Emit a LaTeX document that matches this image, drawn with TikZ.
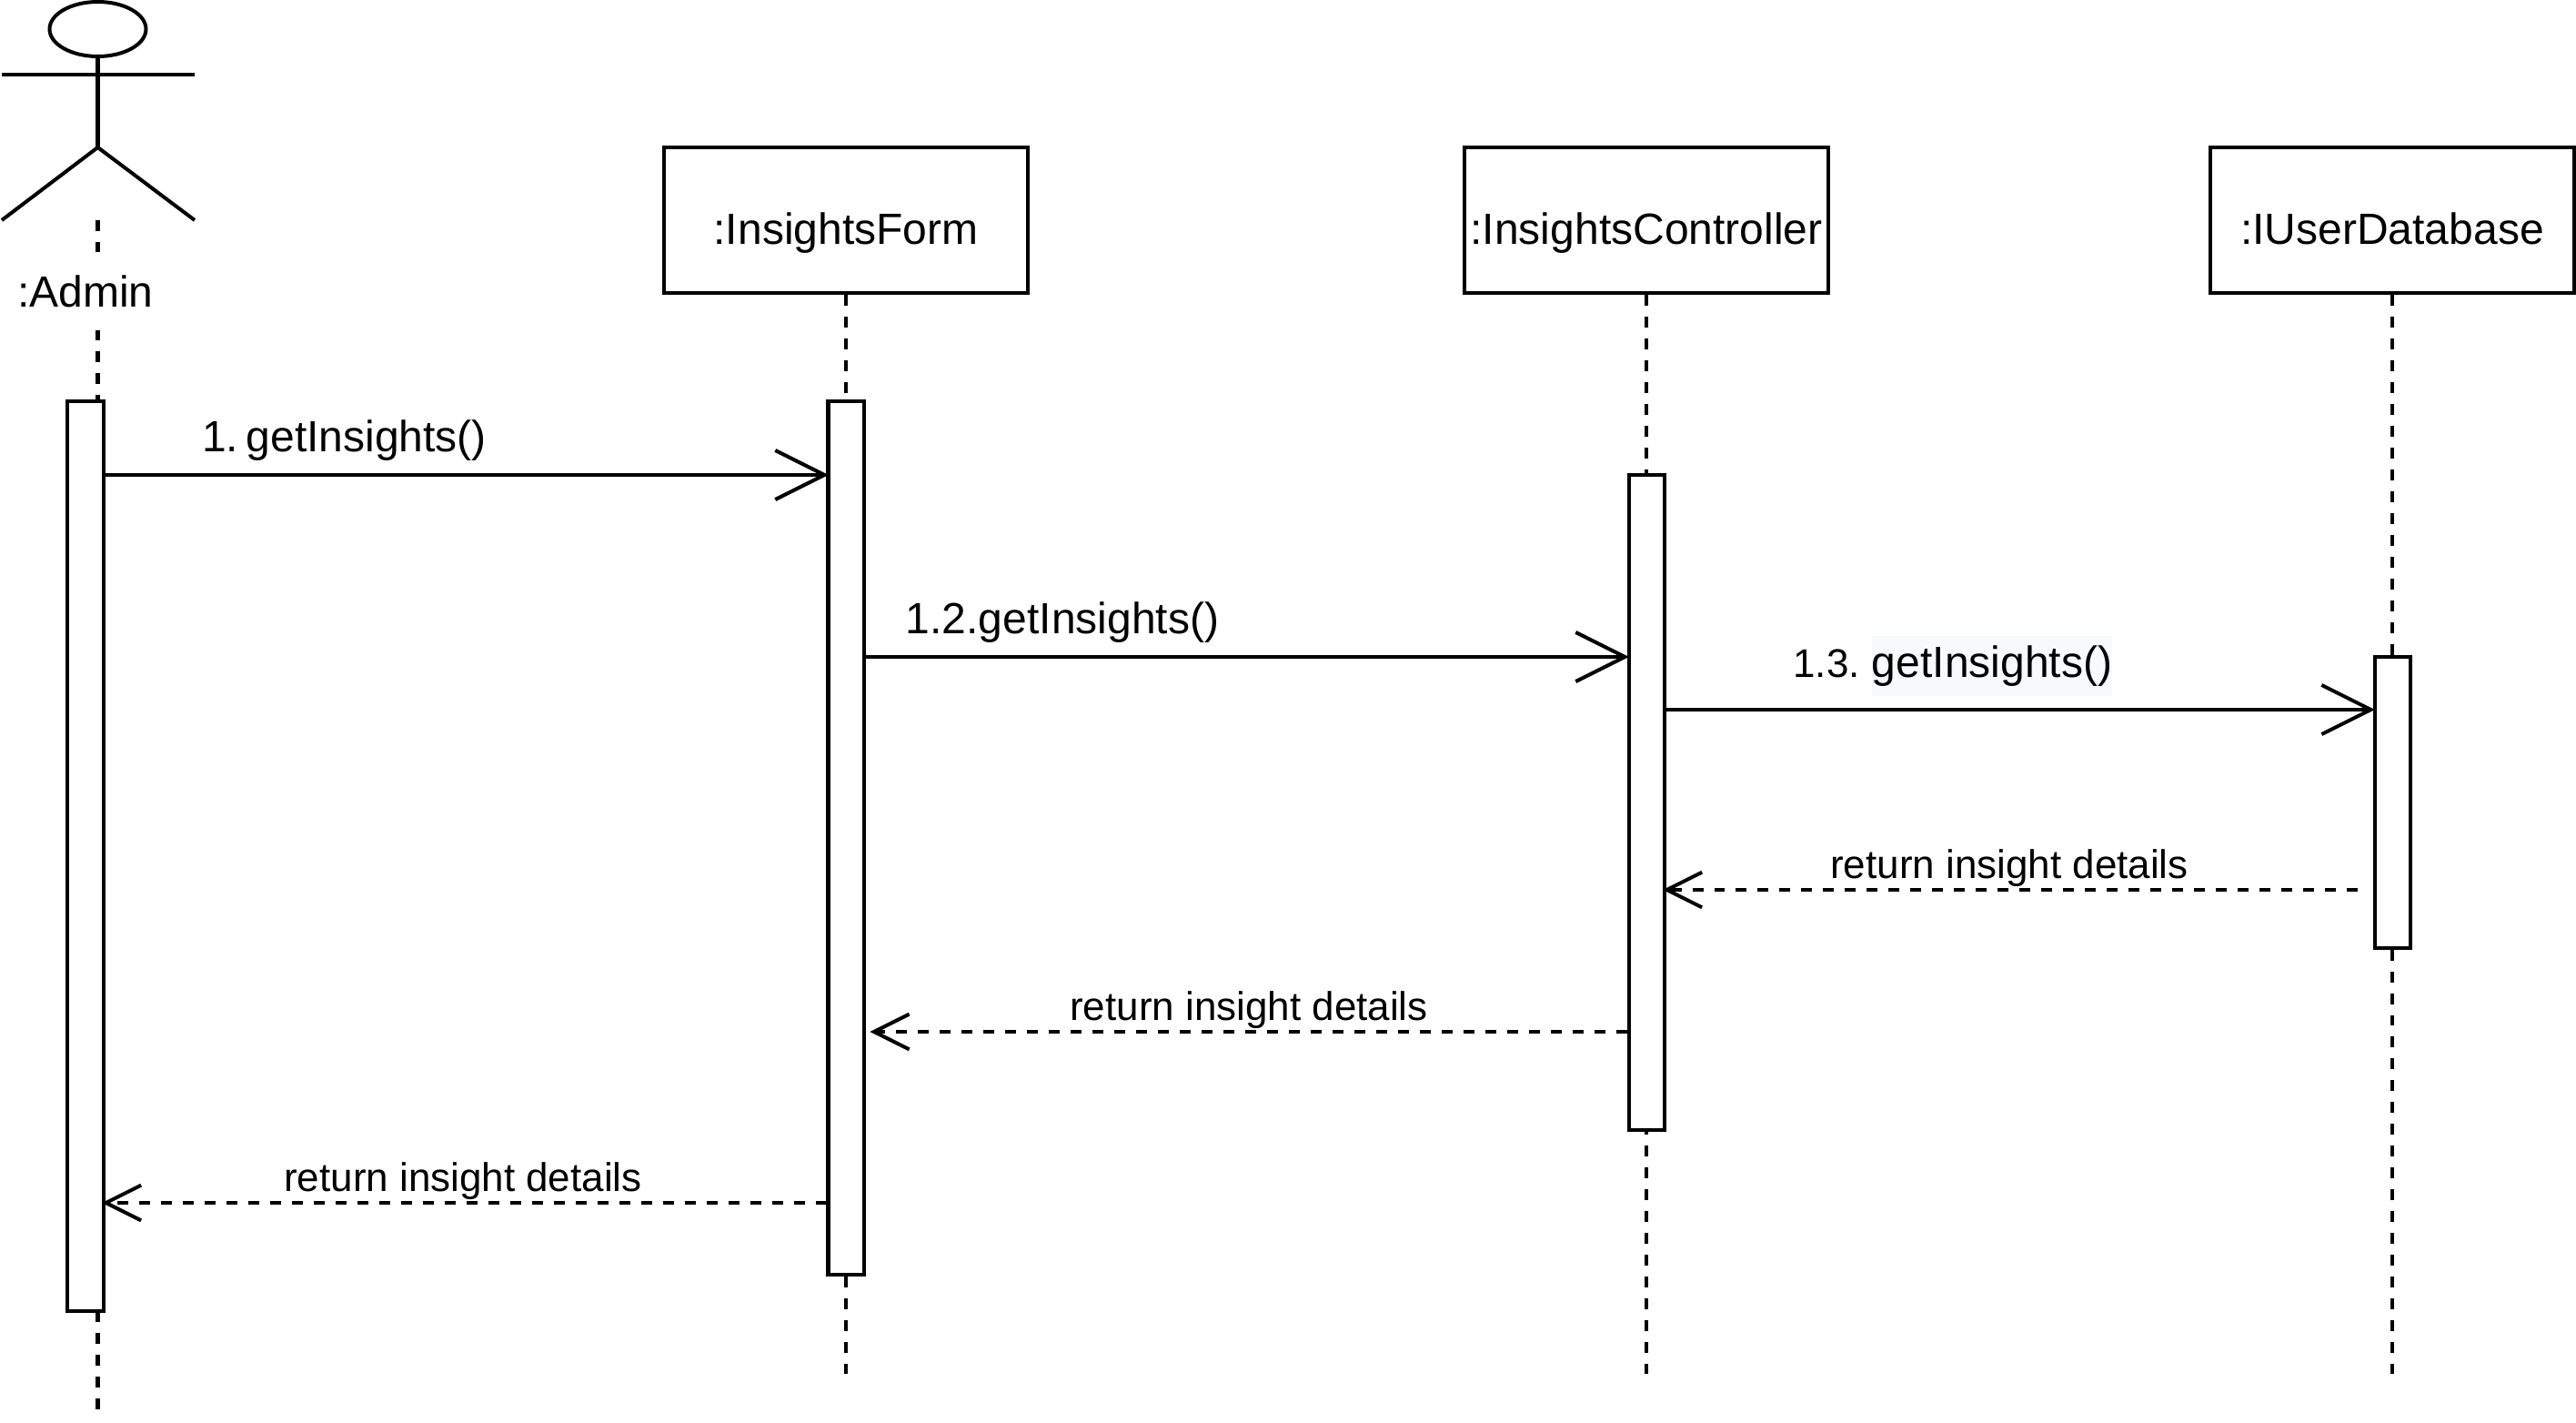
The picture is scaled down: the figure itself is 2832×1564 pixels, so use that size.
\documentclass[tikz,border=0pt]{standalone}
\usepackage{fontspec}
\setmainfont{Liberation Sans}
\usetikzlibrary{arrows.meta}
\definecolor{labelbg}{HTML}{F8F9FA}
% one unit of the picture is one pixel of the layout
\tikzset{
  x=0.01cm,y=-0.01cm,
  objbox/.style={draw,fill=white,minimum width=4cm,minimum height=1.6cm,inner sep=0pt,text height=14.8pt,text depth=0pt,font=\fontsize{13.65}{16}\selectfont},
  actbar/.style={draw,fill=white,minimum width=0.39cm,inner sep=0pt},
  lifeline/.style={dash pattern=on 3.41pt off 3.41pt},
  callmsg/.style={shorten >=-0.7pt,-{Straight Barb[length=15.4pt,width=15.4pt,line width=1.14pt]}},
  retmsg/.style={shorten >=-1pt,dash pattern=on 3.41pt off 3.41pt,-{Straight Barb[length=11pt,width=11pt,line width=1.14pt]}},
  msglabel/.style={font=\fontsize{13.65}{16}\selectfont,inner sep=0pt},
  retlabel/.style={font=\fontsize{12.5}{14}\selectfont,inner sep=0pt},
}
\begin{document}
\begin{tikzpicture}[line width=1.14pt]
  \useasboundingbox (0,0) rectangle (2832,1564);

  % Stick figure
  \draw (107.5,32) ellipse [x radius=53,y radius=30];
  \draw (107.5,62) -- (107.5,162);
  \draw (2,82) -- (214,82);
  \draw (2,242) -- (107.5,162) -- (214,242);

  % Objects and lifelines
  \foreach \name/\txt/\x in {form/:InsightsForm/930,ctrl/:InsightsController/1810,db/:IUserDatabase/2630} {
    \node[objbox] (\name) at (\x,242) {\txt};
    \coordinate (\name end) at (\x,1510);
    \draw[lifeline] (\name) -- (\name end);
  }
  \coordinate (admintop) at (107.5,242);
  \coordinate (adminend) at (107.5,1550);
  \draw[lifeline] (admintop) -- (adminend);
  \node[font=\fontsize{13.65}{16}\selectfont,fill=white,inner sep=2pt,minimum height=0.85cm] (adminlabel) at (94,320) {:Admin};

  % Activation bars
  \node[actbar,minimum height=10cm] (adminbar) at (94,941) {};
  \node[actbar,minimum height=9.6cm] (formbar) at (930,921) {};
  \node[actbar,minimum height=7.2cm] (ctrlbar) at (1810,882) {};
  \node[actbar,minimum height=3.2cm] (dbbar) at (2630,882) {};

  % Message heights
  \coordinate (m1) at (0,522);
  \coordinate (m2) at (0,722);
  \coordinate (m3) at (0,780);
  \coordinate (r3) at (0,978);
  \coordinate (r2) at (0,1134);
  \coordinate (r1) at (0,1322);

  % Calls
  \draw[callmsg] (adminbar.east |- m1) -- (formbar.west |- m1);
  \draw[callmsg] (formbar.east |- m2) -- (ctrlbar.west |- m2);
  \draw[callmsg] (ctrlbar.east |- m3) -- (dbbar.west |- m3);

  % Returns
  \coordinate (r3from) at (2592,978);
  \coordinate (r2to) at (960,1134);
  \draw[retmsg] (r3from) -- (ctrlbar.east |- r3);
  \draw[retmsg] (ctrlbar.west |- r2) -- (r2to);
  \draw[retmsg] (formbar.west |- r1) -- (adminbar.east |- r1);

  % Labels
  \node[msglabel] (l1) at (378.5,484) {1.\hspace{2.5pt}getInsights()};
  \node[msglabel] (l2) at (1168,684) {1.2.getInsights()};
  \node[retlabel] (l3a) at (2008,729) {1.3.};
  \node[msglabel,fill=labelbg,inner ysep=3pt] (l3b) at (2190,732) {getInsights()};
  \node[retlabel] (l4) at (2209,954) {return insight details};
  \node[retlabel] (l5) at (1373,1110) {return insight details};
  \node[retlabel] (l6) at (509,1298) {return insight details};
\end{tikzpicture}
\end{document}
